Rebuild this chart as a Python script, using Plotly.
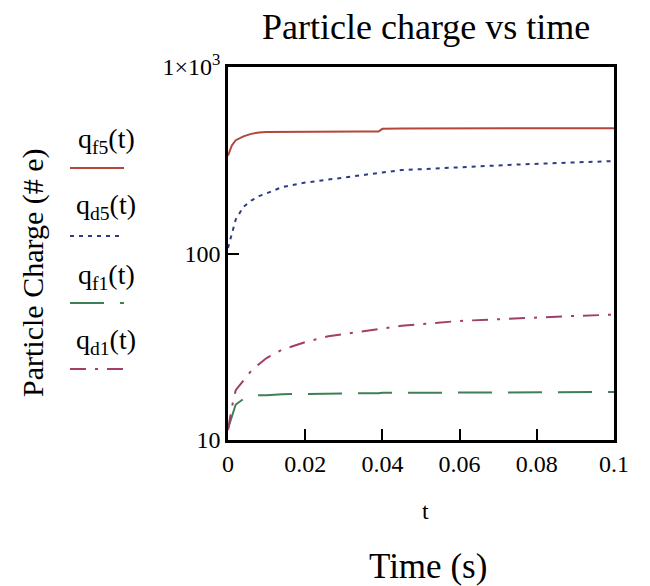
import plotly.graph_objects as go

# ---- data ----
t = [0, 0.001, 0.002, 0.004, 0.006, 0.008, 0.010, 0.014, 0.020, 0.026, 0.034,
     0.039, 0.040, 0.045, 0.060, 0.075, 0.090, 0.100]
q_f5 = [335, 380, 405, 425, 438, 446, 448, 449, 450, 450, 451,
        451, 466, 468, 470, 470, 470, 470]
q_d5 = [107, 130, 152, 178, 192, 203, 210, 227, 240, 249, 263,
        270, 272, 280, 290, 300, 308, 313]
q_f1 = [11.5, 13.5, 15.5, 16.6, 17.1, 17.4, 17.4, 17.6, 17.7, 17.7, 17.8,
        17.8, 17.9, 17.9, 18.0, 18.0, 18.1, 18.1]
q_d1 = [11.3, 15.0, 18.5, 21.0, 23.5, 25.5, 27.5, 30.5, 33.5, 36.0, 38.0,
        39.5, 39.8, 41.0, 43.5, 45.0, 46.3, 47.0]

x_ticks = [0, 0.02, 0.04, 0.06, 0.08, 0.1]
x_ticktext = ["0", "0.02", "0.04", "0.06", "0.08", "0.1"]
y_ticks = [10, 100, 1000]
y_ticktext = ["10", "100", "1×10<sup>3</sup>"]

series = [
    ("q<sub>f5</sub>(t)", q_f5, "#b5463a", "solid"),
    ("q<sub>d5</sub>(t)", q_d5, "#2d3b86", "4px,5px"),
    ("q<sub>f1</sub>(t)", q_f1, "#3f7f55", "34px,16px"),
    ("q<sub>d1</sub>(t)", q_d1, "#a23e69", "16px,9px,3px,9px"),
]

FONT = "Liberation Serif, Times New Roman, serif"
OFF = 8                      # page body margin
W, H = 650 - OFF, 586 - OFF
PL, PR, PT, PB = 228, 614, 67, 440   # plot area in page pixels
L, R, T, B = PL - OFF, OFF + W - PR, PT - OFF, OFF + H - PB
pw, ph = PR - PL, PB - PT

def px(x):
    return (x - PL) / pw

def py(y):
    return (PB - y) / ph

def label(text, x, y, size, angle=0):
    return dict(text=text, x=px(x), y=py(y), xref="paper", yref="paper",
                xanchor="center", yanchor="middle", showarrow=False,
                textangle=angle, font=dict(family=FONT, size=size, color="black"))

fig = go.Figure()
for name, vals, col, dash in series:
    fig.add_trace(go.Scatter(x=t, y=vals, mode="lines", name=name,
                             line=dict(color=col, width=2, dash=dash),
                             showlegend=False))

annotations = [
    label("Particle charge vs time", 426, 27, 36),
    label("Particle Charge (# e)", 33, 273, 30, -90),
    label("t", 425, 511, 24),
    label("Time (s)", 428, 566, 35),
]
shapes = []
# legend (text above a sample line), decoration only
leg_text_y = [140, 206, 276, 341]
leg_line_y = [168, 236, 303, 369]
for (name, vals, col, dash), ty, ly in zip(series, leg_text_y, leg_line_y):
    annotations.append(label(name, 106, ty, 28))
    shapes.append(dict(type="line", xref="paper", yref="paper",
                       x0=px(70), x1=px(124), y0=py(ly), y1=py(ly),
                       line=dict(color=col, width=2.2, dash=dash)))

axis_common = dict(showgrid=False, zeroline=False, showline=True, mirror=True,
                   linecolor="black", linewidth=2.5, ticks="inside", ticklen=11,
                   tickwidth=2, tickcolor="black",
                   tickfont=dict(family=FONT, size=24, color="black"))

fig.update_layout(
    width=W, height=H,
    margin=dict(l=L, r=R, t=T, b=B, autoexpand=False),
    paper_bgcolor="white", plot_bgcolor="white",
    annotations=annotations, shapes=shapes,
    xaxis=dict(range=[0, 0.1], tickvals=x_ticks, ticktext=x_ticktext, **axis_common),
    yaxis=dict(type="log", range=[1, 3], tickvals=y_ticks, ticktext=y_ticktext,
               **axis_common),
)

fig.write_html("out.html")
